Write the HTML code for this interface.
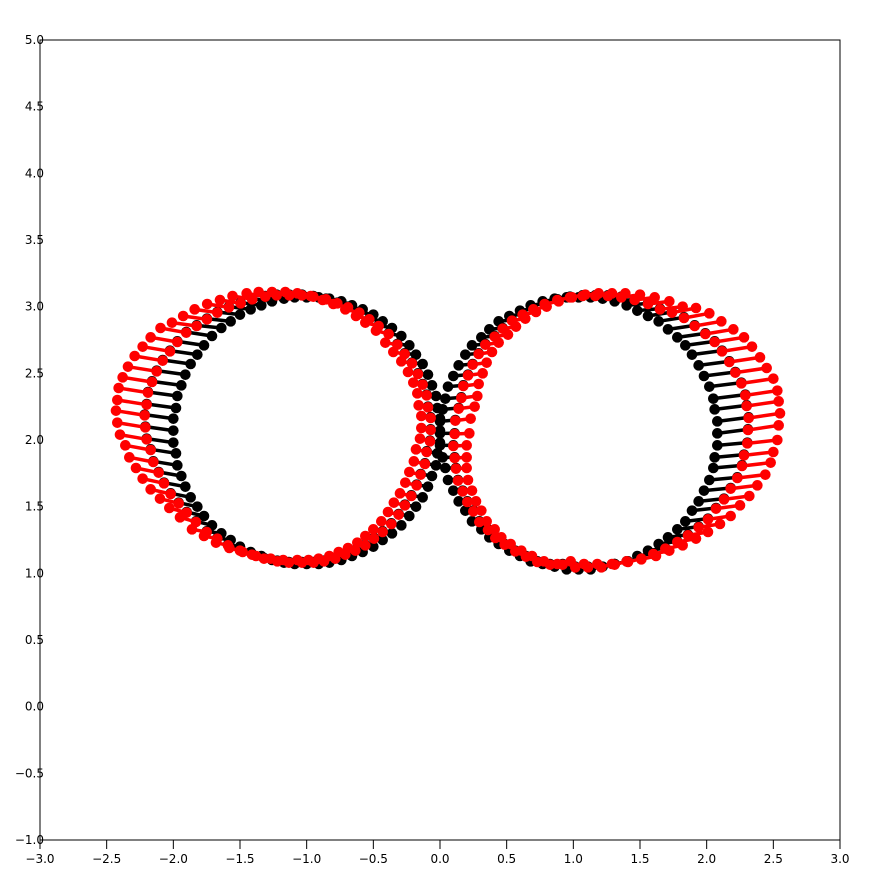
<!DOCTYPE html>
<html><head><meta charset="utf-8"><style>
html,body{margin:0;padding:0;background:#fff;}
svg{display:block;}
text{font-family:"DejaVu Sans","Liberation Sans",sans-serif;font-size:12px;fill:#000;}
</style></head><body>
<svg id="chart" width="880" height="880" viewBox="0 0 880 880" xmlns="http://www.w3.org/2000/svg">
<rect x="40" y="40" width="800" height="800" fill="#fff" stroke="#000" stroke-width="1"/>
<g id="ticks"></g>
<g id="blk"></g>
<g id="red"></g>
</svg>
<script>
const xTicks=["−3.0","−2.5","−2.0","−1.5","−1.0","−0.5","0.0","0.5","1.0","1.5","2.0","2.5","3.0"];
const xTickVals=[-3,-2.5,-2,-1.5,-1,-0.5,0,0.5,1,1.5,2,2.5,3];
const yTicks=["−1.0","−0.5","0.0","0.5","1.0","1.5","2.0","2.5","3.0","3.5","4.0","4.5","5.0"];
const yTickVals=[-1,-0.5,0,0.5,1,1.5,2,2.5,3,3.5,4,4.5,5];
// inner (black) anchor points: left loop then right loop
const innerX=[0.00,-0.00,-0.02,-0.03,-0.06,-0.09,-0.13,-0.18,-0.23,-0.29,-0.36,-0.43,-0.50,-0.58,-0.66,-0.74,-0.83,-0.91,-1.00,
-1.09,-1.17,-1.26,-1.34,-1.42,-1.50,-1.57,-1.64,-1.71,-1.77,-1.82,-1.87,-1.91,-1.94,-1.97,-1.98,-2.00,-2.00,
-2.00,-1.98,-1.97,-1.94,-1.91,-1.87,-1.82,-1.77,-1.71,-1.64,-1.57,-1.50,-1.42,-1.34,-1.26,-1.17,-1.09,-1.00,
-0.91,-0.83,-0.74,-0.66,-0.58,-0.50,-0.43,-0.36,-0.29,-0.23,-0.18,-0.13,-0.09,-0.06,-0.03,-0.02,0.00,
2.08,2.08,2.06,2.05,2.02,1.98,1.94,1.89,1.84,1.78,1.71,1.64,1.56,1.48,1.40,1.31,1.22,1.13,1.04,0.95,0.86,0.77,0.68,0.60,0.52,0.44,0.37,0.31,0.24,0.19,0.14,0.10,0.06,0.04,0.02,0.00,
0.00,0.00,0.02,0.04,0.06,0.10,0.14,0.19,0.24,0.31,0.37,0.44,0.52,0.60,0.68,0.77,0.86,0.95,1.04,1.13,1.22,1.31,1.40,1.48,1.56,1.64,1.71,1.78,1.84,1.89,1.94,1.98,2.02,2.05,2.06,2.08];
const innerY=[2.07,2.16,2.24,2.33,2.41,2.49,2.57,2.64,2.71,2.78,2.84,2.89,2.94,2.98,3.01,3.04,3.06,3.07,3.07,
3.07,3.06,3.04,3.01,2.98,2.94,2.89,2.84,2.78,2.71,2.64,2.57,2.49,2.41,2.33,2.24,2.16,2.07,
1.98,1.90,1.81,1.73,1.65,1.57,1.50,1.43,1.36,1.30,1.25,1.20,1.16,1.13,1.10,1.08,1.07,1.07,
1.07,1.08,1.10,1.13,1.16,1.20,1.25,1.30,1.36,1.43,1.50,1.57,1.65,1.73,1.81,1.90,1.98,
2.05,2.14,2.23,2.31,2.40,2.48,2.56,2.64,2.71,2.77,2.83,2.89,2.93,2.97,3.01,3.04,3.06,3.07,3.07,3.07,3.06,3.04,3.01,2.97,2.93,2.89,2.83,2.77,2.71,2.64,2.56,2.48,2.40,2.31,2.23,2.14,
2.05,1.96,1.87,1.79,1.70,1.62,1.54,1.47,1.39,1.33,1.27,1.22,1.17,1.13,1.09,1.07,1.05,1.03,1.03,1.03,1.05,1.07,1.09,1.13,1.17,1.22,1.27,1.33,1.39,1.47,1.54,1.62,1.70,1.79,1.87,1.96];
// step vector (black segment; red segment repeats it from the midpoint)
const stepX=[-0.07,-0.07,-0.07,-0.07,-0.07,-0.075,-0.08,-0.085,-0.09,-0.095,-0.10,-0.10,-0.105,-0.11,-0.11,-0.115,-0.12,-0.125,-0.13,
-0.135,-0.14,-0.148,-0.155,-0.163,-0.17,-0.178,-0.185,-0.193,-0.20,-0.205,-0.21,-0.215,-0.22,-0.22,-0.22,-0.215,-0.21,
-0.20,-0.19,-0.18,-0.17,-0.16,-0.15,-0.14,-0.13,-0.12,-0.11,-0.10,-0.09,-0.08,-0.07,-0.06,-0.05,-0.043,-0.035,
-0.038,-0.04,-0.045,-0.05,-0.055,-0.06,-0.065,-0.07,-0.075,-0.08,-0.083,-0.085,-0.085,-0.085,-0.083,-0.08,-0.075,
0.23,0.235,0.24,0.24,0.24,0.235,0.23,0.225,0.22,0.21,0.20,0.19,0.18,0.17,0.16,0.15,0.14,0.13,0.125,0.12,0.115,0.11,0.105,0.10,0.10,0.10,0.10,0.10,0.10,0.10,0.105,0.11,0.115,0.12,0.12,0.115,
0.11,0.10,0.09,0.08,0.075,0.07,0.065,0.06,0.055,0.05,0.045,0.045,0.045,0.045,0.05,0.055,0.06,0.065,0.07,0.08,0.09,0.10,0.11,0.12,0.13,0.14,0.15,0.16,0.17,0.18,0.19,0.20,0.21,0.215,0.22,0.225];
const stepY=[0.01,0.01,0.01,0.01,0.01,0.01,0.01,0.01,0.01,
0.02,0.02,0.02,0.02,0.02,0.02,0.02,0.02,0.02,0.02,0.02,0.02,0.02,0.02,0.02,0.02,0.02,0.02,
0.03,0.03,0.03,0.03,0.03,0.03,0.03,0.03,0.03,0.03,0.03,0.03,0.03,0.03,0.03,0.03,0.03,0.03,0.03,
0.015,0.015,0.015,0.015,0.015,0.015,0.015,0.015,0.015,0.015,0.015,0.015,0.015,0.015,0.015,0.015,0.015,0.015,0.015,0.015,0.015,0.015,0.015,0.015,0.015,0.015,
0.03,0.03,0.03,0.03,0.03,0.03,0.03,0.03,0.03,0.03,0.03,0.03,0.03,
0.015,0.015,0.015,0.015,0.015,0.015,0.015,0.015,0.015,0.015,0.015,0.015,
0.01,0.01,0.01,0.01,0.01,0.01,0.01,0.01,0.01,0.01,0.01,
0,0,0,0,0,0,0,0,0,0,0,0,0,0,0,0,
0.02,0.02,0.02,0.02,0.02,0.02,0.02,0.02,0.02,0.02,0.02,0.02,0.02,0.02,0.02,0.02,0.02,0.02,0.02,0.02];
const NS="http://www.w3.org/2000/svg";
function sx(v){return 40+(v+3)/6*800;}
function sy(v){return 840-(v+1)/6*800;}
function mk(tag,parent){const e=document.createElementNS(NS,tag);parent.appendChild(e);return e;}
const tg=document.getElementById('ticks');
xTickVals.forEach((v,i)=>{
  const l=mk('line',tg);
  
  
  l.setAttribute('x1',sx(v));l.setAttribute('x2',sx(v));l.setAttribute('y1',840);l.setAttribute('y2',849);l.setAttribute('stroke','#000');
  const t=mk('text',tg);
  
  
  t.setAttribute('x',sx(v));t.setAttribute('y',863);t.setAttribute('text-anchor','middle');t.textContent=xTicks[i];
});
yTickVals.forEach((v,i)=>{
  const t=mk('text',tg);
  
  
  t.setAttribute('x',44);t.setAttribute('y',sy(v)+4);t.setAttribute('text-anchor','end');t.textContent=yTicks[i];
});
const bg=document.getElementById('blk'),rg=document.getElementById('red');
function seg(g,x1,y1,x2,y2,col,nm){
  const l=mk('line',g);
  
  
  l.setAttribute('x1',sx(x1));l.setAttribute('y1',sy(y1));l.setAttribute('x2',sx(x2));l.setAttribute('y2',sy(y2));
  l.setAttribute('stroke',col);l.setAttribute('stroke-width','3.5');
  [[x1,y1],[x2,y2]].forEach(p=>{
    const c=mk('circle',g);
    
    
    c.setAttribute('cx',sx(p[0]));c.setAttribute('cy',sy(p[1]));c.setAttribute('r',5.3);c.setAttribute('fill',col);
  });
}
for(let i=0;i<innerX.length;i++){
  const mx=innerX[i]+stepX[i],my=innerY[i]+stepY[i];
  seg(bg,innerX[i],innerY[i],mx,my,'#000','black');
  seg(rg,mx,my-0.005,mx+stepX[i],my+stepY[i],'#f00','red');
}
</script>
</body></html>
